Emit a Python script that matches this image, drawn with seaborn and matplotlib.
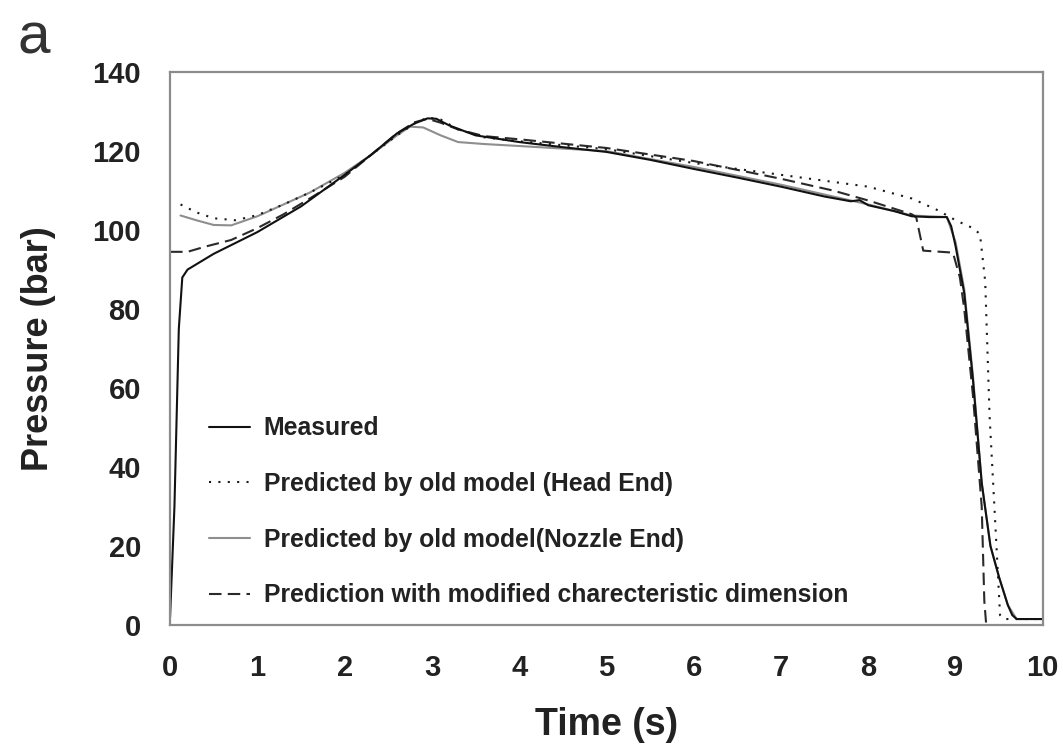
import numpy as np
import pandas as pd
import matplotlib
matplotlib.use("Agg")
import matplotlib.pyplot as plt
import seaborn as sns

# series
t_meas = [0, 0.05, 0.1, 0.14, 0.2, 0.5, 1.0, 1.5, 2.0, 2.3, 2.6, 2.8, 2.95, 3.05, 3.2, 3.5,
          4.0, 4.5, 5.0, 5.5, 6.0, 6.5, 7.0, 7.5, 7.8, 7.9, 8.0, 8.3, 8.5, 8.7, 8.9, 8.95,
          9.0, 9.1, 9.2, 9.3, 9.4, 9.5, 9.6, 9.65, 9.7, 9.8, 10.0]
p_meas = [2, 30, 75, 88, 90, 94, 99.5, 106, 114, 119, 124.5, 127, 128.3, 128.2, 126.5, 124,
          122.3, 121, 119.8, 117.8, 115.5, 113.3, 111, 108.5, 107.3, 107.6, 106.3, 104.8, 103.5, 103.3, 103.3, 101,
          96, 84, 62, 36, 20, 12, 5, 2.5, 1.5, 1.5, 1.5]

t_head = [0.12, 0.3, 0.5, 0.75, 1.0, 1.3, 1.6, 2.0, 2.3, 2.6, 2.8, 2.95, 3.1, 3.3, 3.6,
          4.0, 5.0, 6.0, 6.5, 7.0, 7.5, 8.0, 8.5, 8.8, 9.0, 9.2, 9.28, 9.34, 9.39, 9.45,
          9.51, 9.55, 10.0]
p_head = [106.5, 104.5, 103, 102.5, 103.8, 106.5, 109.5, 114, 119, 124, 127, 128.5, 128, 125.5, 123.5,
          122.5, 120.5, 117, 115.5, 114, 112.5, 111, 108, 105, 102.5, 100.5, 99, 87, 53, 28,
          2.5, 1.5, 1.5]

t_nozzle = [0.12, 0.3, 0.5, 0.7, 1.0, 1.3, 1.6, 2.0, 2.3, 2.6, 2.75, 2.9, 3.1, 3.3, 3.6,
            4.0, 5.0, 6.0, 7.0, 7.5, 7.8, 8.0, 8.5, 8.9, 9.0, 9.1, 9.2, 9.3, 9.4, 9.5,
            9.6, 9.7, 10.0]
p_nozzle = [103.7, 102.5, 101.3, 101.2, 103.5, 106.5, 109.5, 114.5, 119, 124, 126.2, 126, 124, 122.3, 121.8,
            121.3, 120, 116, 111.5, 109, 107.5, 106.5, 103.7, 103.3, 97, 85, 63, 36, 20, 12,
            5, 1.5, 1.5]

t_mod = [0, 0.2, 0.4, 0.7, 1.0, 1.3, 1.6, 2.0, 2.3, 2.6, 2.8, 2.95, 3.1, 3.3, 3.6,
         4.0, 5.0, 6.0, 7.0, 7.6, 8.0, 8.5, 8.55, 8.63, 8.97, 9.05, 9.1, 9.2, 9.3, 9.33, 9.35]
p_mod = [94.5, 94.5, 95.8, 97.5, 100.5, 104, 108, 113.5, 119, 124.5, 127.3, 128.2, 127.2, 125.5, 123.8,
         123, 120.8, 117.5, 113, 110, 107.5, 104, 103.2, 94.8, 94.3, 88, 80, 58, 30, 6, 0.5]

labels = ["Measured",
          "Predicted by old model (Head End)",
          "Predicted by old model(Nozzle End)",
          "Prediction with modified charecteristic dimension"]

df = pd.concat([
    pd.DataFrame({"Time": t_nozzle, "Pressure": p_nozzle, "series": labels[2]}),
    pd.DataFrame({"Time": t_mod, "Pressure": p_mod, "series": labels[3]}),
    pd.DataFrame({"Time": t_head, "Pressure": p_head, "series": labels[1]}),
    pd.DataFrame({"Time": t_meas, "Pressure": p_meas, "series": labels[0]}),
], ignore_index=True)

sns.set_theme(style="white")
plt.rcParams["font.family"] = ["Liberation Sans", "DejaVu Sans"]

colors = {labels[0]: "#111111", labels[1]: "#1a1a1a", labels[2]: "#8e8e8e", labels[3]: "#2a2a2a"}
dashes = {labels[0]: "", labels[1]: (1, 3.5), labels[2]: "", labels[3]: (6, 3)}

fig = plt.figure(figsize=(10.63, 7.44), dpi=100)
ax = fig.add_axes([0.16, 0.16, 0.821, 0.743])

sns.lineplot(data=df, x="Time", y="Pressure", hue="series", style="series",
             hue_order=[labels[2], labels[3], labels[1], labels[0]],
             palette=colors, dashes=dashes, sort=False, estimator=None,
             linewidth=1.5, ax=ax)

ax.set_xlim(0, 10)
ax.set_ylim(0, 140)
ax.set_xticks(range(0, 11))
ax.set_yticks(range(0, 141, 20))

for s in ax.spines.values():
    s.set_color("#8c8c8c")
    s.set_linewidth(1.6)

ax.tick_params(axis="both", direction="out", length=3, width=1.2, color="#8c8c8c",
               labelsize=21, labelcolor="#222222", pad=18)
for lab in ax.get_xticklabels() + ax.get_yticklabels():
    lab.set_fontweight("bold")

ax.set_xlabel("Time (s)", fontsize=27, fontweight="bold", color="#222222")
ax.set_ylabel("Pressure (bar)", fontsize=26, fontweight="bold", color="#222222")
ax.xaxis.set_label_coords(0.5, -0.148)
ax.yaxis.set_label_coords(-0.131, 0.5)

handles, labs = ax.get_legend_handles_labels()
hmap = dict(zip(labs, handles))
leg = ax.legend([hmap[l] for l in labels], labels, loc="lower left",
                bbox_to_anchor=(0.045, 0.032), frameon=False,
                prop={"size": 17.8, "weight": "bold"},
                handlelength=1.65, handletextpad=0.55, labelspacing=1.28,
                borderpad=0, borderaxespad=0)
for txt in leg.get_texts():
    txt.set_color("#222222")

fig.text(0.032, 0.948, "a", fontsize=42, color="#333333", ha="center", va="center")

fig.savefig("out.png", dpi=100, facecolor="white")
